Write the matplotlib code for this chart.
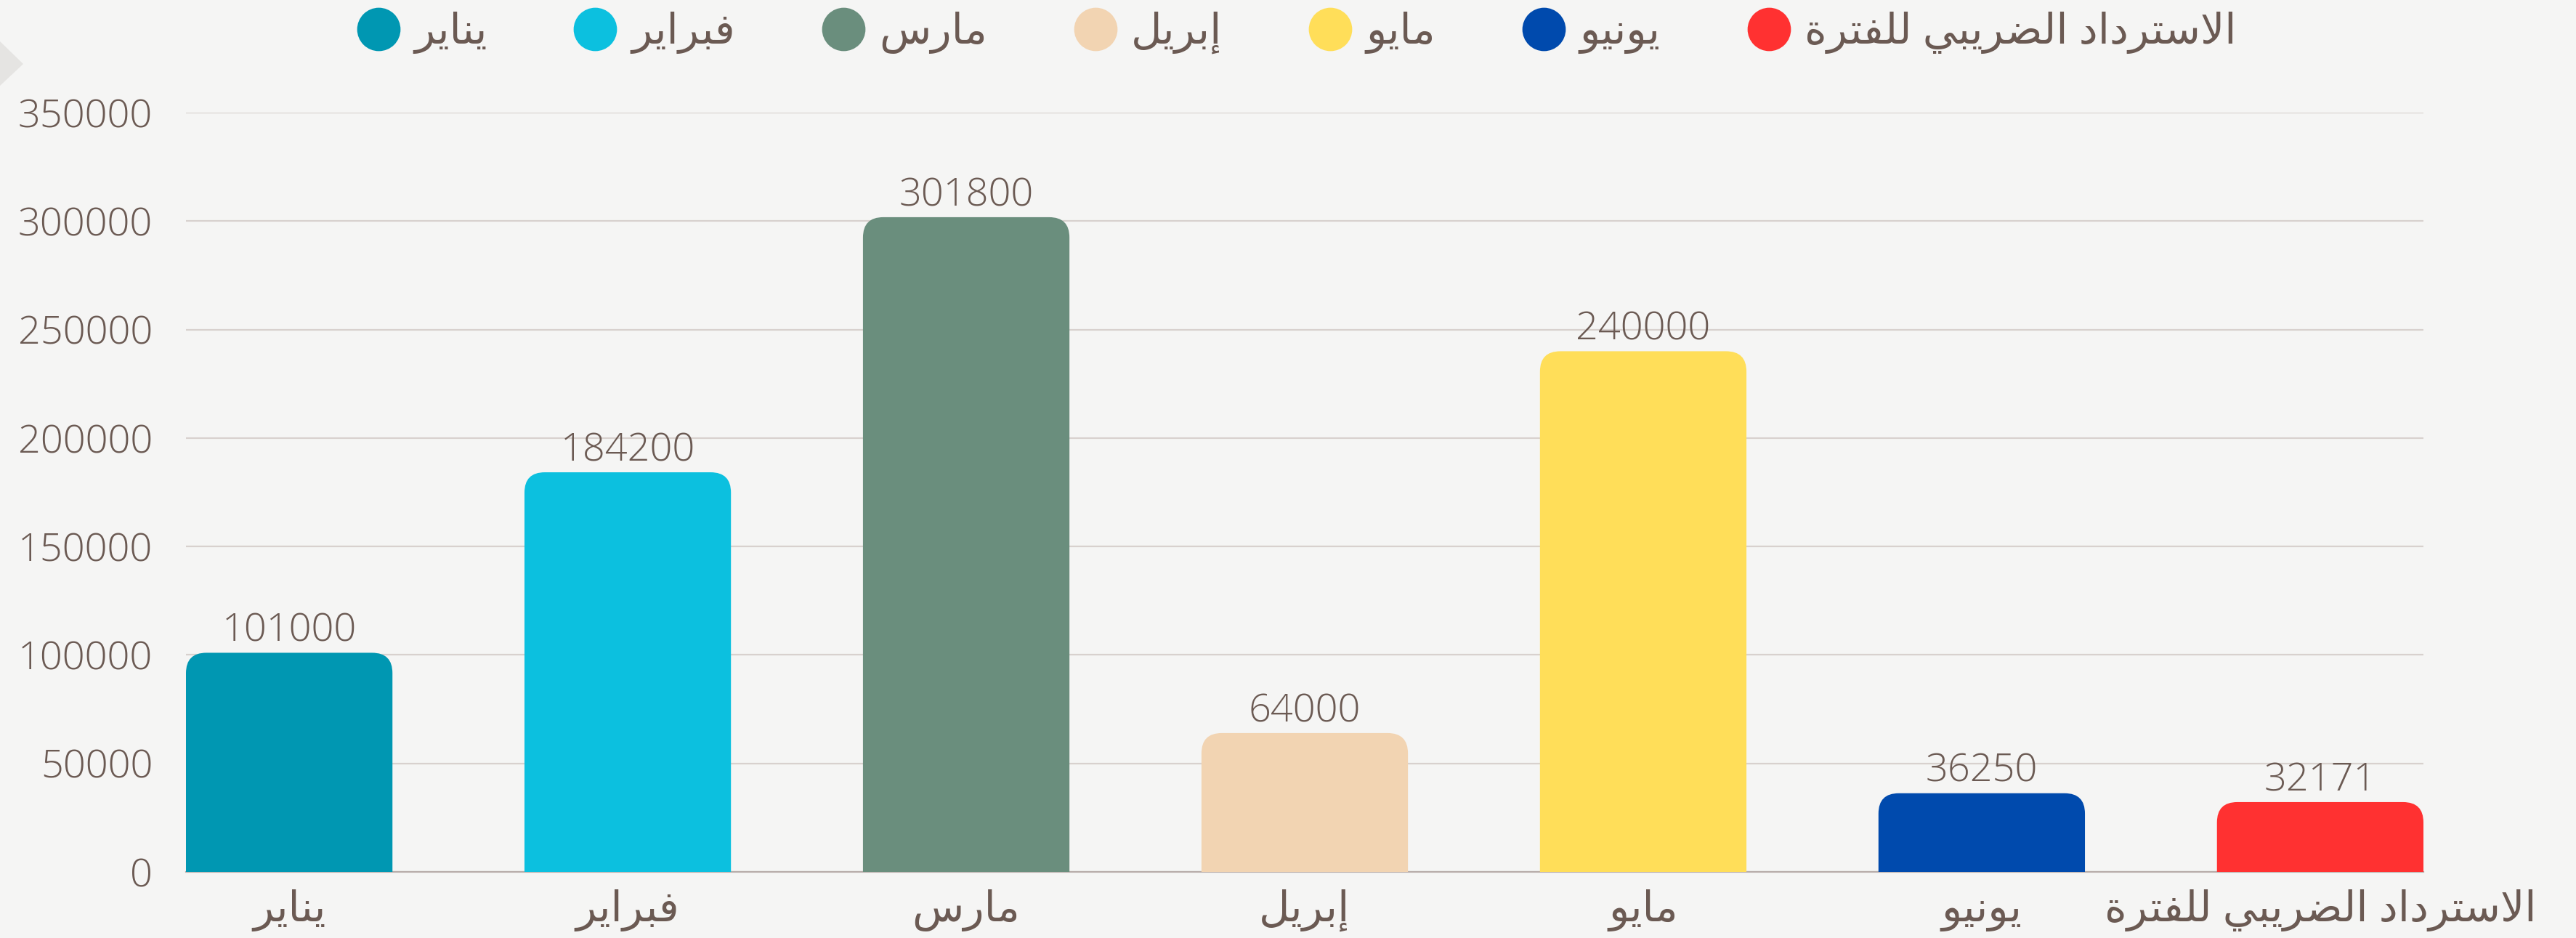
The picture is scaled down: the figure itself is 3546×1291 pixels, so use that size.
import matplotlib

matplotlib.use("Agg")
import matplotlib.pyplot as plt
from matplotlib.lines import Line2D
from matplotlib.patches import FancyBboxPatch, Polygon

# data
months = ["يناير", "فبراير", "مارس", "إبريل", "مايو", "يونيو", "الاسترداد الضريبي للفترة"]
values = [101000, 184200, 301800, 64000, 240000, 36250, 32171]
colors = ["#0097B2", "#0CC0DF", "#6A8E7D", "#F2D4B2", "#FFDE59", "#004AAD", "#FF3131"]
yticks = [0, 50000, 100000, 150000, 200000, 250000, 300000, 350000]

BG = "#F5F5F4"
TXT = "#6B5A53"
FS_NUM = 39
FS_AR = 42

# minimal arabic shaping (matplotlib draws letters isolated and left to right)
FORMS = {
    "ا": ("\uFE8D", "\uFE8E", None, None),
    "إ": ("\uFE87", "\uFE88", None, None),
    "ب": ("\uFE8F", "\uFE90", "\uFE91", "\uFE92"),
    "ة": ("\uFE93", "\uFE94", None, None),
    "ت": ("\uFE95", "\uFE96", "\uFE97", "\uFE98"),
    "د": ("\uFEA9", "\uFEAA", None, None),
    "ر": ("\uFEAD", "\uFEAE", None, None),
    "س": ("\uFEB1", "\uFEB2", "\uFEB3", "\uFEB4"),
    "ض": ("\uFEBD", "\uFEBE", "\uFEBF", "\uFEC0"),
    "ف": ("\uFED1", "\uFED2", "\uFED3", "\uFED4"),
    "ل": ("\uFEDD", "\uFEDE", "\uFEDF", "\uFEE0"),
    "م": ("\uFEE1", "\uFEE2", "\uFEE3", "\uFEE4"),
    "ن": ("\uFEE5", "\uFEE6", "\uFEE7", "\uFEE8"),
    "و": ("\uFEED", "\uFEEE", None, None),
    "ي": ("\uFEF1", "\uFEF2", "\uFEF3", "\uFEF4"),
}


def shape(text):
    out = []
    i = 0
    prev_joins = False
    while i < len(text):
        c = text[i]
        if c not in FORMS:
            out.append(c)
            prev_joins = False
            i += 1
            continue
        if c == "ل" and i + 1 < len(text) and text[i + 1] == "ا":
            out.append("\uFEFC" if prev_joins else "\uFEFB")
            prev_joins = False
            i += 2
            continue
        iso, fin, ini, med = FORMS[c]
        nxt = text[i + 1] if i + 1 < len(text) else None
        next_joins = ini is not None and nxt in FORMS
        if prev_joins and next_joins:
            g = med
        elif prev_joins:
            g = fin
        elif next_joins:
            g = ini
        else:
            g = iso
        out.append(g)
        prev_joins = next_joins
        i += 1
    return "".join(reversed(out))


plt.rcParams["font.family"] = ["Open Sans", "DejaVu Sans"]

W, H = 3546, 1291
fig = plt.figure(figsize=(W / 100, H / 100), dpi=100, facecolor=BG)

# grey arrow tip decoration at the left edge
fig.patches.append(
    Polygon([(0, 1 - 57 / H), (32 / W, 1 - 88 / H), (0, 1 - 118 / H)],
            closed=True, transform=fig.transFigure, fc="#E5E4E2", ec="none")
)

left, right, bottom, top = 256, 3336, 1200, 155
ax = fig.add_axes([left / W, 1 - bottom / H, (right - left) / W, (bottom - top) / H])
ax.set_facecolor("none")

x = list(range(len(months)))
bw = 0.61
bars = ax.bar(x, values, width=bw, color=colors, zorder=3)
ax.set_xlim(-bw / 2, len(months) - 1 + bw / 2)
ax.set_ylim(0, 350000)

# rounded tops
px_x = (right - left) / (len(months) - 1 + bw)
px_y = (bottom - top) / 350000
rad = 28
rx = rad / px_x
ry = rad / px_y
for rect, c in zip(bars, colors):
    rect.set_visible(False)
    p = FancyBboxPatch((rect.get_x(), -ry), rect.get_width(), rect.get_height() + ry,
                       boxstyle=f"round,pad=0,rounding_size={rx}",
                       mutation_aspect=ry / rx, fc=c, ec="none", zorder=3)
    ax.add_patch(p)

ax.bar_label(bars, labels=[str(v) for v in values], padding=2, color=TXT,
             fontsize=FS_NUM, fontweight="light")

ax.set_yticks(yticks)
ax.set_yticklabels([str(t) for t in yticks], fontsize=FS_NUM, fontweight="light")
ax.set_xticks(x)
ax.set_xticklabels([shape(m) for m in months], fontsize=FS_AR)
ax.yaxis.grid(True, color="#D8D1CE", linewidth=1.6)
ax.set_axisbelow(True)
for s in ["top", "right", "left"]:
    ax.spines[s].set_visible(False)
ax.spines["bottom"].set_color("#B8ADAA")
ax.spines["bottom"].set_linewidth(1.6)
ax.tick_params(axis="both", length=0, colors=TXT)
ax.tick_params(axis="y", pad=33)
ax.tick_params(axis="x", pad=17)

handles = [Line2D([], [], marker="o", ls="", markersize=43,
                  markerfacecolor=c, markeredgecolor="none") for c in colors]
fig.legend(handles, [shape(m) for m in months], loc="center",
           bbox_to_anchor=(0.503, 1 - 45 / H), ncol=len(months), frameon=False,
           fontsize=FS_AR, labelcolor=TXT, handlelength=1.1, handletextpad=0.3,
           columnspacing=2.0)

fig.savefig("out.png", dpi=100, facecolor=BG)
